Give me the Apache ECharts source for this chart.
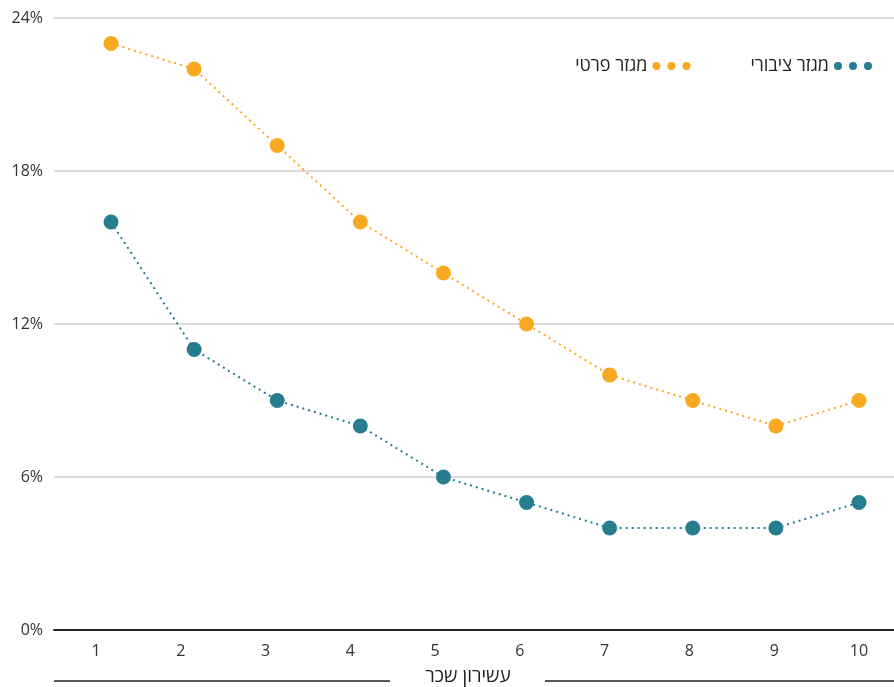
<!DOCTYPE html>
<html>
<head>
<meta charset="utf-8">
<script src="https://cdn.jsdelivr.net/npm/echarts@6/dist/echarts.min.js"></script>
<style>html,body{margin:0;padding:0;background:#fff}#c{width:894px;height:687px}</style>
</head>
<body>
<div id="c"></div>
<script>
var deciles = [1, 2, 3, 4, 5, 6, 7, 8, 9, 10];
var privateSector = [23, 22, 19, 16, 14, 12, 10, 9, 8, 9];
var publicSector = [16, 11, 9, 8, 6, 5, 4, 4, 4, 5];
var yTicks = [0, 6, 12, 18, 24];
var namePrivate = 'מגזר פרטי';
var namePublic = 'מגזר ציבורי';
var axisTitle = 'עשירון שכר';

var FONT = "'Open Sans', 'DejaVu Sans', sans-serif";
var ORANGE = '#F9A822';
var TEAL = '#277D90';
var dotsIcon = 'path://M4,0A4,4 0 1,1 4,8A4,4 0 1,1 4,0ZM19,0A4,4 0 1,1 19,8A4,4 0 1,1 19,0ZM34,0A4,4 0 1,1 34,8A4,4 0 1,1 34,0Z';

function pairs(arr) { return deciles.map(function (d, i) { return [d, arr[i]]; }); }

var chart = echarts.init(document.getElementById('c'));
chart.setOption({
  animation: false,
  textStyle: { fontFamily: FONT },
  grid: { left: 54, right: 0, top: 18, bottom: 57, containLabel: false },
  legend: {
    right: 17, top: 52, align: 'right', itemGap: 60,
    icon: dotsIcon, itemWidth: 38, itemHeight: 8,
    textStyle: { fontFamily: FONT, fontSize: 18, color: '#222' },
    data: [
      { name: namePrivate, itemStyle: { color: ORANGE } },
      { name: namePublic, itemStyle: { color: TEAL } }
    ]
  },
  xAxis: [
    {
      type: 'value', min: 0.505, max: 10.413,
      axisLine: { show: true, onZero: false, lineStyle: { color: '#222', width: 2 } },
      axisTick: { show: false },
      splitLine: { show: false },
      axisLabel: { customValues: deciles, color: '#333', fontSize: 16, margin: 13, fontFamily: FONT,
                   showMinLabel: true, showMaxLabel: true }
    },
    {
      type: 'value', min: 0.314, max: 10.421, show: false
    }
  ],
  yAxis: {
    type: 'value', min: 0, max: 24, interval: 6,
    axisLine: { show: false }, axisTick: { show: false },
    splitLine: { lineStyle: { color: '#cfcfcf', width: 1.5 } },
    axisLabel: { formatter: '{value}%', color: '#333', fontSize: 16, margin: 11, fontFamily: FONT }
  },
  graphic: [
    { type: 'line', shape: { x1: 54, y1: 681, x2: 390, y2: 681 }, style: { stroke: '#222', lineWidth: 1.5 } },
    { type: 'line', shape: { x1: 545, y1: 681, x2: 894, y2: 681 }, style: { stroke: '#222', lineWidth: 1.5 } },
    { type: 'text', x: 468, y: 677, style: { text: axisTitle, fill: '#222', font: '19px ' + FONT, textAlign: 'center', textVerticalAlign: 'middle' } }
  ],
  series: [
    {
      name: namePrivate, type: 'line', xAxisIndex: 1, data: pairs(privateSector),
      symbol: 'circle', symbolSize: 15,
      itemStyle: { color: ORANGE },
      lineStyle: { color: ORANGE, width: 2, type: [2, 4] }
    },
    {
      name: namePublic, type: 'line', xAxisIndex: 1, data: pairs(publicSector),
      symbol: 'circle', symbolSize: 15,
      itemStyle: { color: TEAL },
      lineStyle: { color: TEAL, width: 2, type: [2, 4] }
    }
  ]
});
</script>
</body>
</html>
